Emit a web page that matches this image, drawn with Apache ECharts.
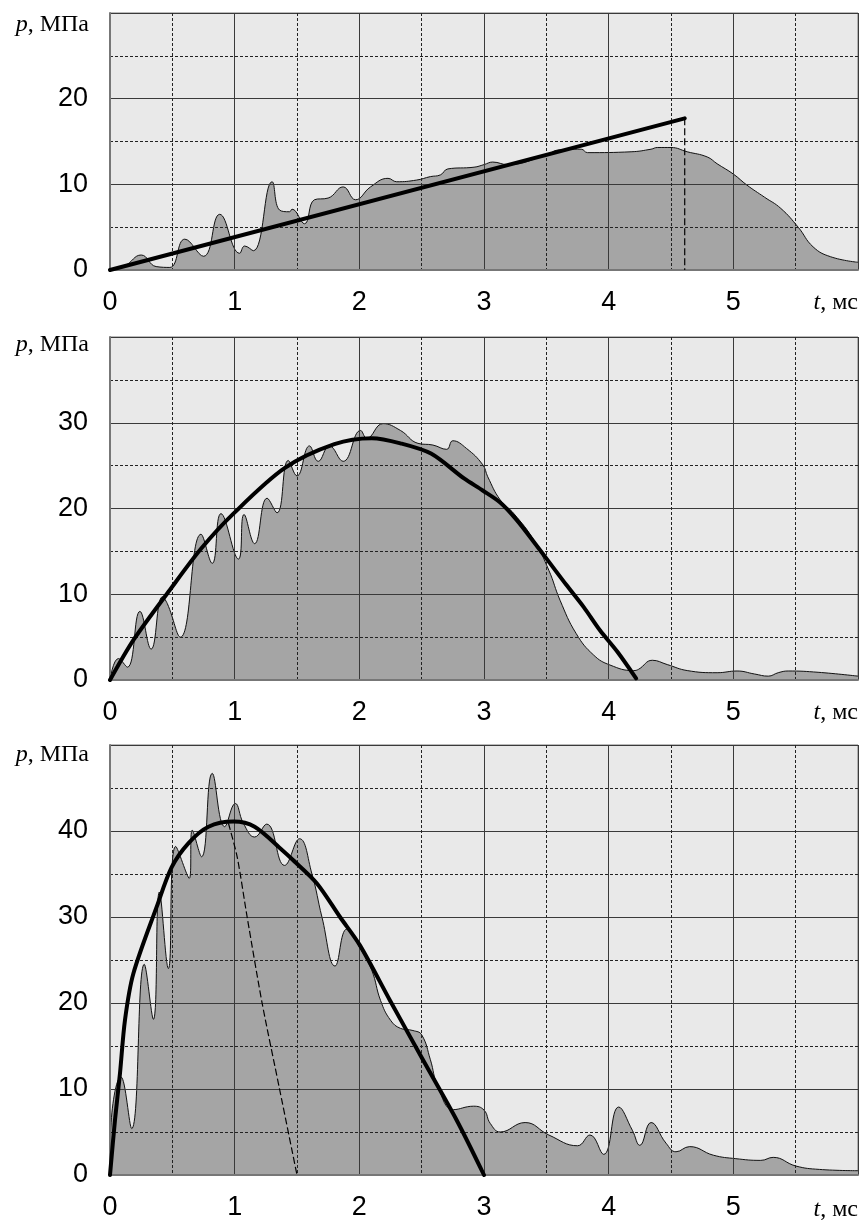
<!DOCTYPE html>
<html>
<head>
<meta charset="utf-8">
<script src="https://cdn.jsdelivr.net/npm/echarts@6/dist/echarts.min.js"></script>
<style>html,body{margin:0;padding:0;background:#fff}#c{width:862px;height:1225px}</style>
</head>
<body>
<div id="c"></div>
<script>
// ---- data ----
const xTicks = [0, 1, 2, 3, 4, 5, 6];
const yMax = [30, 40, 50];

// panel 1: measured pressure
const t1 = [0, 0.12, 0.25, 0.37, 0.48, 0.6, 0.75, 0.88, 1.04, 1.08, 1.15, 1.30, 1.36, 1.44, 1.46, 1.56, 1.64, 1.75, 1.87, 1.97, 2.09, 2.23, 2.30, 2.46, 2.57, 2.65, 2.71, 2.92, 3.0, 3.07, 3.19, 3.51, 3.59, 3.78, 3.83, 4.18, 4.34, 4.39, 4.50, 4.63, 4.79, 4.87, 5.0, 5.11, 5.25, 5.38, 5.52, 5.64, 5.78, 6.0];
const p1 = [0, 0.5, 1.75, 0.4, 0.3, 3.6, 1.6, 6.5, 1.95, 2.8, 2.25, 10.3, 7, 6.8, 7.1, 5.4, 8.2, 8.4, 9.7, 8.2, 9.7, 10.7, 10.3, 10.5, 10.9, 11.1, 11.8, 12.0, 12.3, 12.6, 12.3, 13.5, 14.0, 14.1, 13.7, 13.8, 14.1, 14.3, 14.3, 13.8, 13.2, 12.4, 11.2, 9.9, 8.5, 7.2, 5.0, 2.7, 1.55, 0.9];
// panel 1: approximation line and drop
const fitT1 = [0, 4.61];
const fitP1 = [0, 17.7];
const dropT1 = [4.61, 4.61];
const dropP1 = [17.7, 0];

// panel 2
const t2 = [0, 0.067, 0.14, 0.24, 0.33, 0.42, 0.46, 0.565, 0.73, 0.82, 0.89, 1.03, 1.075, 1.16, 1.26, 1.34, 1.43, 1.5, 1.6, 1.67, 1.76, 1.87, 2.01, 2.06, 2.19, 2.33, 2.47, 2.59, 2.70, 2.75, 2.86, 2.99, 3.03, 3.13, 3.24, 3.40, 3.52, 3.61, 3.74, 3.88, 4.01, 4.20, 4.24, 4.35, 4.47, 4.63, 4.87, 5.03, 5.17, 5.28, 5.36, 5.44, 5.68, 6.0];
const p2 = [0, 2.5, 1.5, 8.0, 3.6, 9.7, 8.9, 5.0, 17.0, 13.6, 19.4, 14.1, 19.3, 15.9, 21.2, 19.5, 25.6, 23.8, 27.3, 25.5, 27.3, 25.5, 29.1, 28.2, 29.9, 29.1, 27.6, 27.4, 26.9, 27.9, 27.0, 25.1, 23.7, 21.0, 19.4, 16.3, 12.8, 9.3, 5.4, 2.9, 1.75, 1.1, 1.25, 2.3, 1.8, 1.1, 0.85, 1.05, 0.7, 0.45, 0.85, 1.05, 0.9, 0.45];
const fitT2 = [0, 0.19, 0.48, 0.73, 0.99, 1.40, 1.80, 2.10, 2.33, 2.575, 2.84, 2.99, 3.13, 3.26, 3.40, 3.53, 3.66, 3.80, 3.93, 4.07, 4.22];
const fitP2 = [0, 4.7, 10.5, 15.3, 19.4, 24.7, 27.5, 28.2, 27.6, 26.4, 23.5, 22.1, 20.7, 18.7, 16.1, 13.6, 11.1, 8.5, 5.8, 3.3, 0.2];

// panel 3
const t3 = [0, 0.005, 0.088, 0.174, 0.275, 0.348, 0.396, 0.468, 0.527, 0.636, 0.66, 0.735, 0.82, 0.92, 1.005, 1.07, 1.16, 1.257, 1.40, 1.52, 1.62, 1.70, 1.805, 1.90, 2.005, 2.10, 2.17, 2.25, 2.33, 2.43, 2.50, 2.57, 2.63, 2.755, 2.915, 3.0, 3.05, 3.13, 3.33, 3.52, 3.75, 3.85, 3.96, 4.08, 4.19, 4.25, 4.34, 4.46, 4.54, 4.65, 4.84, 5.02, 5.22, 5.32, 5.50, 5.69, 6.0];
const p3 = [0, 5, 11.4, 5.4, 24.5, 18.1, 32.9, 24.0, 38.2, 34.5, 40.1, 37.0, 46.7, 40.5, 43.2, 40.9, 39.3, 40.8, 36.0, 39.1, 35.0, 30.0, 24.3, 28.6, 26.4, 23.8, 20.3, 18.0, 17.05, 16.8, 16.3, 13.4, 10.3, 7.6, 8.0, 7.55, 6.0, 5.0, 6.1, 4.65, 3.4, 4.65, 2.4, 7.9, 5.2, 3.45, 6.1, 3.7, 2.7, 3.3, 2.3, 1.9, 1.7, 2.05, 1.05, 0.65, 0.5];
const fitT3 = [0, 0.04, 0.08, 0.12, 0.187, 0.375, 0.495, 0.63, 0.79, 0.99, 1.16, 1.38, 1.47, 1.66, 1.845, 2.005, 2.246, 2.51, 2.78, 3.0];
const fitP3 = [0, 6.4, 11.8, 18.0, 23.4, 31.2, 35.8, 38.6, 40.5, 41.1, 40.5, 37.8, 36.6, 33.9, 30.0, 26.7, 20.3, 13.4, 6.4, 0];
const dashT3 = [0.95, 1.02, 1.10, 1.22, 1.36, 1.50];
const dashP3 = [40.9, 37.0, 30.0, 20.0, 10.0, 0];

// ---- build ----
const zip = (a, b) => a.map((v, i) => [v, b[i]]);
const gridTops = [13, 337, 745];
const gridHeights = [257, 343, 430];
const FILL = '#a5a5a5';
const sans = 'Liberation Sans, Arial, sans-serif';

const grids = [], xAxes = [], yAxes = [], series = [];
for (let i = 0; i < 3; i++) {
  grids.push({ left: 110, width: 748, top: gridTops[i], height: gridHeights[i],
    show: true, backgroundColor: '#e9e9e9', borderColor: '#777', borderWidth: 1 });
  xAxes.push({ gridIndex: i, type: 'value', min: 0, max: 6, interval: 1, z: 3,
    axisLine: { show: true, onZero: false, lineStyle: { color: '#777', width: 2 } },
    axisTick: { show: false },
    axisLabel: { margin: 19, color: '#000', fontFamily: sans, fontSize: 27,
      formatter: v => (v === 6 ? '' : String(v)) },
    splitLine: { show: true, lineStyle: { color: '#3a3a3a', width: 1 } },
    minorTick: { show: false, splitNumber: 2 },
    minorSplitLine: { show: true, lineStyle: { color: '#222', width: 1, type: [3, 2] } } });
  yAxes.push({ gridIndex: i, type: 'value', min: 0, max: yMax[i], interval: 10, z: 3,
    axisLine: { show: true, lineStyle: { color: '#777', width: 2 } },
    axisTick: { show: false },
    axisLabel: { margin: 22, color: '#000', fontFamily: sans, fontSize: 27,
      showMaxLabel: false },
    splitLine: { show: true, lineStyle: { color: '#3a3a3a', width: 1 } },
    minorTick: { show: false, splitNumber: 2 },
    minorSplitLine: { show: true, lineStyle: { color: '#222', width: 1, type: [3, 2] } } });
}

function area(i, t, p) {
  return { type: 'line', xAxisIndex: i, yAxisIndex: i, data: zip(t, p), smooth: 0.45,
    symbol: 'none', z: 2, lineStyle: { color: '#111', width: 1 },
    areaStyle: { color: FILL, opacity: 1 }, silent: true };
}
function thick(i, t, p, sm) {
  return { type: 'line', xAxisIndex: i, yAxisIndex: i, data: zip(t, p), smooth: sm,
    symbol: 'none', z: 6, lineStyle: { color: '#000', width: 4, cap: 'round', join: 'round' }, silent: true };
}
function dashed(i, t, p, dash, sm) {
  return { type: 'line', xAxisIndex: i, yAxisIndex: i, data: zip(t, p), smooth: sm,
    symbol: 'none', z: 5, lineStyle: { color: '#000', width: 1.2, type: dash }, silent: true };
}
series.push(area(0, t1, p1));
series.push(thick(0, fitT1, fitP1, false));
series.push(dashed(0, dropT1, dropP1, [7, 3], false));
series.push(area(1, t2, p2));
series.push(thick(1, fitT2, fitP2, 0.3));
series.push(area(2, t3, p3));
series.push(thick(2, fitT3, fitP3, 0.3));
series.push(dashed(2, dashT3, dashP3, [7, 3], 0.25));

const serif = '"Liberation Serif", "Times New Roman", serif';
const graphics = [];
const pLabelY = [25, 345, 755];
const tLabelY = [303, 713, 1210];
for (let i = 0; i < 3; i++) {
  graphics.push({ type: 'text', x: 89, y: pLabelY[i], z: 10,
    style: { text: '{i|p}, МПа', textAlign: 'right', textVerticalAlign: 'middle',
      fontFamily: serif, fontSize: 24, fill: '#000',
      rich: { i: { fontStyle: 'italic', fontFamily: serif, fontSize: 24 } } } });
  graphics.push({ type: 'text', x: 858, y: tLabelY[i], z: 10,
    style: { text: '{i|t}, мс', textAlign: 'right', textVerticalAlign: 'middle',
      fontFamily: serif, fontSize: 24, fill: '#000',
      rich: { i: { fontStyle: 'italic', fontFamily: serif, fontSize: 24 } } } });
}

const chart = echarts.init(document.getElementById('c'), null, { renderer: 'canvas' });
chart.setOption({
  animation: false,
  backgroundColor: '#fff',
  grid: grids, xAxis: xAxes, yAxis: yAxes, series: series, graphic: graphics
});
</script>
</body>
</html>
